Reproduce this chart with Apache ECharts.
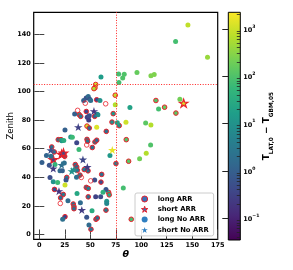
<!DOCTYPE html>
<html><head><meta charset="utf-8">
<script src="https://cdn.jsdelivr.net/npm/echarts@6/dist/echarts.min.js"></script>
<style>html,body{margin:0;padding:0;background:#fff}#c{width:293px;height:270px}</style>
</head><body><div id="c"></div>
<script>
// ---- data: [theta, zenith, log10(T_LAT,0 - T_GBM,05)] ----
const longARR = [
[114.4,93.7,2.0],[122.9,89,2.2],[134,84.9,2.1],[85.3,66.3,2.0],[87.6,51.2,2.1],[90.2,10.6,1.9],
[55.3,104.9,3.0],[54.6,102.6,3.1],[53.6,102,2.8],[74.5,97.4,2.9],[56.3,94.2,-0.4],[39.2,83.8,0.8],
[40.6,82.6,0.5],[46.1,86,-0.5],[54.3,82.6,0.0],[72.5,84.5,1.1],[71.3,78.6,0.9],[78.4,76.1,1.0],
[46.8,75.8,3.0],[49,74.4,0.2],[65.7,72.1,0.3],[12.2,61.2,0.3],[14.7,57.7,0.2],[18.6,66.3,0.4],
[21.3,66.3,1.5],[46.8,66.5,0.6],[47.4,65.2,0.4],[54.6,64.7,0.5],[56.3,65.9,0.1],[52,60.8,0.3],
[75.2,49.6,0.6],[24.9,54.7,0.5],[26.9,39.9,0.5],[14.9,31.5,-0.3],[23.5,28,0.5],[20.9,25.6,0.2],
[33.3,21.3,0.3],[34,19.4,0.8],[34,18,0.3],[25.2,12.4,-0.5],[35.3,48.9,0.3],[36.7,47.2,0.2],
[37.3,44.9,0.4],[39.9,41.5,0.6],[47.8,44.5,0.3],[44.1,45.4,0.6],[60.5,36.6,-0.3],[61.2,42,0.3],
[46.1,32.9,0.4],[48,32.2,0.6],[48,26.3,0.3],[68,29.4,1.6],[68.6,27.7,1.4],[65.4,17,0.5],
[50.7,3.6,0.3],[55.6,10.6,0.5],[56.9,11.5,0.2]
];
const longARRNoValue = [
[37.6,86.8],[45.1,91.8],[65.1,91.4],[46.5,62.6],[20.6,21.7],[41.2,39.9],[50.4,37.5]
];
const shortARR = [
[21.9,56.1,-0.5],[23.7,57,-0.3],[13.7,52.4,-0.5],[141.6,91.8,3.1]
];
const longNoARR = [
[145.8,146.6,2.9],[133.7,135,1.9],[165,124,2.6],[95.8,113.2,2.2],[109.5,111,2.4],[112.7,111.8,2.4],
[83.3,112,2.0],[81.8,109.5,2.0],[77.8,112.3,1.9],[78.1,106.3,1.9],[137.9,94.6,2.3],[88.9,88.8,1.3],
[117,87.7,1.9],[85,78.4,3.0],[104.3,77.9,2.1],[109.5,76.5,2.8],[109.2,62.6,2.0],[104.9,56.8,2.8],
[98.4,53,2.3],[82.4,32.4,1.9],[60.5,110.2,1.2],[74.5,90.7,2.8],[76.5,78.2,1.3],[69.3,55.2,1.1],
[38.9,59.4,1.8],[46,95.5,-0.3],[48,96.5,0.2],[49.5,94.5,-0.2],[43.5,93.7,0.0],[50.4,93.7,0.3],
[59.5,93.7,1.0],[34.7,84.2,0.0],[56.6,84,0.5],[47,82,-0.5],[48.5,80,-0.6],[49,83,-0.3],
[25.2,73,0.0],[56.3,74.9,3.1],[57.5,83.8,0.9],[36.7,64.2,-0.4],[30.8,68.2,1.1],[32.4,68,1.8],
[22,65.5,1.1],[24,65.8,1.5],[2.6,50.3,0.0],[7,55.2,0.1],[11.5,54.7,0.3],[15.4,48.9,1.7],
[9.8,48.4,-0.2],[24.5,50,0.3],[20.3,44.5,0.2],[22.6,44.6,0.0],[10.5,39.9,-0.3],[13.7,36.8,1.0],
[18,36.4,1.8],[26.2,38,-0.2],[25.2,34.5,3.0],[28.1,23.6,0.2],[22.9,10.6,0.3],[37,28.7,1.4],
[40.3,22.2,0.2],[36.5,40,0.3],[54.3,38,-0.3],[55.3,26.3,-0.5],[60.2,26.3,-0.3],[65.4,31.5,-0.2],
[62.5,29.6,1.6],[66.1,23.3,1.0],[66.1,21.7,0.8],[51.7,16.6,1.5],[46.5,12,-0.2],[48.7,6.6,0.2]
];
const shortNoARR = [
[11.2,58.9,-0.3],[13.7,46.1,-0.6],[21.9,48.6,0.3],[19.3,30.3,-0.7],[31.8,44.3,1.0],[34,45.4,0.9],
[41.7,17.1,-0.6],[42.8,52.4,-0.4],[47.1,47.2,-0.6],[38.2,75.1,-0.5],[53.6,86.3,-0.7],[71.6,59.1,3.2]
];
const thetaTicks = [0,25,50,75,100,125,150,175];
const zenithTicks = [0,20,40,60,80,100,120,140];
const cbarTicks = [-1,0,1,2,3];
const cbarMinor = [];
for (let n=-2;n<=3;n++) for (let k=2;k<=9;k++){const v=n+Math.log10(k); if(v>-1.46&&v<3.35) cbarMinor.push(v);}
const refTheta = 75, refZenith = 105;

const viridis = ['#440154','#482878','#3e4989','#31688e','#26828e','#1f9e89','#35b779','#6ece58','#b5de2b','#fde725'];
const STAR = 'path://M100,0 L122.45,69.1 L195.1,69.1 L136.3,111.8 L158.8,180.9 L100,138.2 L41.2,180.9 L63.7,111.8 L4.9,69.1 L77.55,69.1 Z';
const RED = '#e8202a';
const tickFont = {fontFamily:'DejaVu Sans', fontWeight:'bold', fontSize:6.5, color:'#000'};

const chart = echarts.init(document.getElementById('c'), null, {renderer:'canvas'});
const cbarStops = viridis.map((c,i)=>({offset:1-i/(viridis.length-1), color:c})).sort((a,b)=>a.offset-b.offset);
chart.setOption({
  animation:false,
  grid:[
    {left:33.7, top:12.3, width:184, height:227, show:true, borderColor:'#000', borderWidth:1.2, backgroundColor:'#fff',
     containLabel:false, outerBoundsMode:'none'},
    {left:228.3, top:12.3, width:12, height:227.7, show:true, borderColor:'#000', borderWidth:1,
     containLabel:false, outerBoundsMode:'none',
     backgroundColor:{type:'linear', x:0, y:0, x2:0, y2:1, colorStops:cbarStops}}
  ],
  xAxis:[
    {gridIndex:0, type:'value', min:-5.5, max:175, splitLine:{show:false}, axisLine:{show:false},
     axisTick:{show:true, inside:true, length:5, lineStyle:{color:'#444', width:1}, customValues:thetaTicks},
     axisLabel:{...tickFont, margin:3, customValues:thetaTicks},
     name:'θ', nameLocation:'middle', nameGap:10, nameMoveOverlap:false,
     nameTextStyle:{fontFamily:'DejaVu Sans', fontStyle:'italic', fontWeight:'bold', fontSize:9.5, color:'#000', verticalAlign:'top'}},
    {gridIndex:0, type:'value', position:'top', min:-5.5, max:175, splitLine:{show:false}, axisLine:{show:false},
     axisTick:{show:true, inside:true, length:5, lineStyle:{color:'#444', width:1}, customValues:thetaTicks},
     axisLabel:{show:false}},
    {gridIndex:1, type:'value', min:0, max:1, show:false}
  ],
  yAxis:[
    {gridIndex:0, type:'value', min:-3.4, max:155.4, splitLine:{show:false}, axisLine:{show:false},
     axisTick:{show:true, inside:true, length:5, lineStyle:{color:'#444', width:1}, customValues:zenithTicks},
     axisLabel:{...tickFont, margin:3, customValues:zenithTicks},
     name:'Zenith', nameLocation:'middle', nameGap:18, nameMoveOverlap:false,
     nameTextStyle:{fontFamily:'DejaVu Sans', fontSize:8.5, color:'#000'}},
    {gridIndex:0, type:'value', position:'right', min:-3.4, max:155.4, splitLine:{show:false}, axisLine:{show:false},
     axisTick:{show:true, inside:true, length:5, lineStyle:{color:'#444', width:1}, customValues:zenithTicks},
     axisLabel:{show:false}},
    {gridIndex:1, type:'value', position:'right', min:-1.46, max:3.35, splitLine:{show:false}, axisLine:{show:false},
     axisTick:{show:true, inside:true, length:6, lineStyle:{color:'#222', width:1}, customValues:cbarTicks},
     axisLabel:{margin:3, customValues:cbarTicks, align:'left',
       formatter:v=>'{b|10}{s|'+(v<0?'−'+(-v):v)+'}',
       rich:{b:{fontFamily:'DejaVu Sans', fontWeight:'bold', fontSize:6.5, color:'#000', lineHeight:10, verticalAlign:'bottom'},
             s:{fontFamily:'DejaVu Sans', fontWeight:'bold', fontSize:4.6, color:'#000', lineHeight:10, verticalAlign:'top'}}},
     name:'{T|T}{s|LAT,0}{T| − T}{s|GBM,05}', nameLocation:'middle', nameRotate:90, nameGap:22, nameMoveOverlap:false,
     nameTextStyle:{rich:{T:{fontFamily:'DejaVu Sans', fontWeight:'bold', fontSize:9, color:'#000', lineHeight:12, verticalAlign:'top'},
                          s:{fontFamily:'DejaVu Sans', fontWeight:'bold', fontSize:5.8, color:'#000', lineHeight:12, verticalAlign:'bottom'}}}},
    {gridIndex:1, type:'value', position:'right', min:-1.46, max:3.35, splitLine:{show:false}, axisLine:{show:false},
     axisTick:{show:true, inside:true, length:3.5, lineStyle:{color:'#222', width:0.8}, customValues:cbarMinor},
     axisLabel:{show:false}}
  ],
  visualMap:{type:'continuous', show:false, dimension:2, min:-1.46, max:3.35, seriesIndex:[0,1,2,3], inRange:{color:viridis}},
  legend:{
    orient:'vertical', left:135, top:193, padding:[2,5,2,6], itemGap:2.3, itemWidth:8, itemHeight:6,
    backgroundColor:'rgba(255,255,255,0.85)', borderColor:'#ccc', borderWidth:1, borderRadius:2,
    textStyle:{fontFamily:'DejaVu Sans', fontWeight:'bold', fontSize:6.8, color:'#000', lineHeight:8, padding:[0,0,0,4]},
    data:[
      {name:'long ARR', icon:'circle', itemStyle:{color:'#3b6fb6', borderColor:RED, borderWidth:1}},
      {name:'short ARR', icon:STAR, itemStyle:{color:'#3b6fb6', borderColor:RED, borderWidth:1}},
      {name:'long No ARR', icon:'circle', itemStyle:{color:'#2f7fc1', borderWidth:0}},
      {name:'short No ARR', icon:STAR, itemStyle:{color:'#2f7fc1', borderWidth:0}}
    ]
  },
  series:[
    {name:'long ARR', type:'scatter', xAxisIndex:0, yAxisIndex:0, data:longARR, symbol:'circle', symbolSize:4.6,
     itemStyle:{borderColor:RED, borderWidth:1, opacity:1},
     markLine:{silent:true, symbol:'none', label:{show:false}, lineStyle:{color:'#ff2020', type:[1,1.6], width:1},
       data:[{xAxis:refTheta},{yAxis:refZenith}]}},
    {name:'short ARR', type:'scatter', xAxisIndex:0, yAxisIndex:0, data:shortARR, symbol:STAR, symbolSize:[8.5,8],
     itemStyle:{borderColor:RED, borderWidth:1.2, opacity:1}},
    {name:'long No ARR', type:'scatter', xAxisIndex:0, yAxisIndex:0, data:longNoARR, symbol:'circle', symbolSize:5,
     itemStyle:{borderWidth:0, opacity:1}},
    {name:'short No ARR', type:'scatter', xAxisIndex:0, yAxisIndex:0, data:shortNoARR, symbol:STAR, symbolSize:[8.5,8],
     itemStyle:{borderWidth:0, opacity:1}},
    {name:'long ARR (no value)', type:'scatter', xAxisIndex:0, yAxisIndex:0, data:longARRNoValue, symbol:'circle', symbolSize:4.6,
     itemStyle:{color:'rgba(255,255,255,0)', borderColor:RED, borderWidth:1}}
  ]
});
</script></body></html>
